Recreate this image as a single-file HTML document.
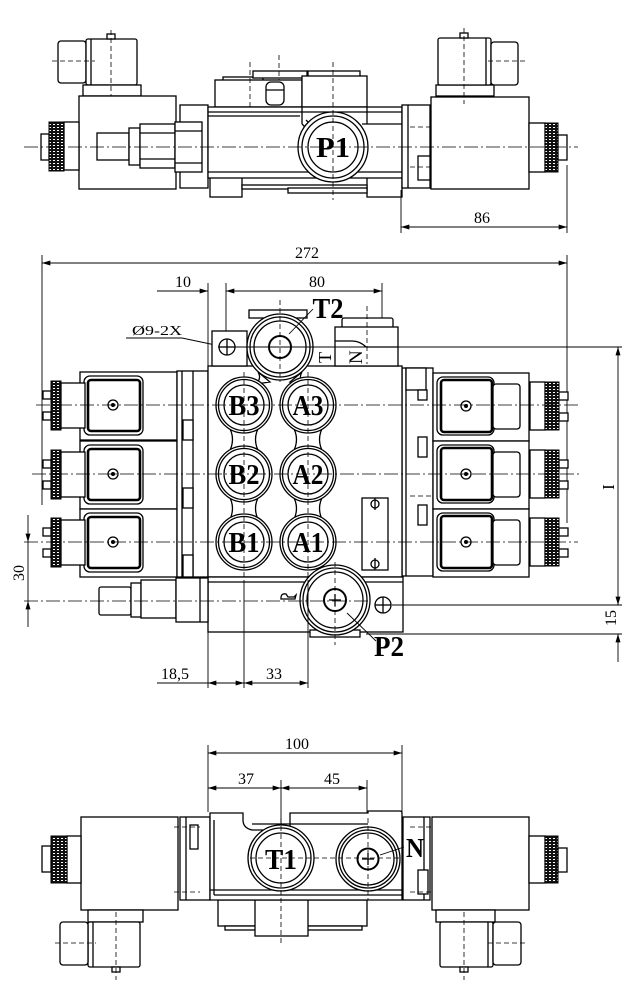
<!DOCTYPE html>
<html><head><meta charset="utf-8">
<style>
html,body{margin:0;padding:0;background:#fff}
svg{display:block}
text{font-family:"Liberation Serif",serif;fill:#000}
.s{fill:none;stroke:#000;stroke-width:1.3}
.w{fill:#fff;stroke:#000;stroke-width:1.3}
.c{fill:none;stroke:#000;stroke-width:0.8;stroke-dasharray:14 3 2 3}
.h{fill:none;stroke:#000;stroke-width:0.8;stroke-dasharray:5 3}
.d{fill:none;stroke:#000;stroke-width:0.9}
.k{fill:url(#kn);stroke:#000;stroke-width:1}
.f{fill:none;stroke:#000;stroke-width:2.6}
.L{font-weight:bold;font-size:29px;text-anchor:middle}
.D{font-size:16px;text-anchor:middle}
</style></head>
<body>
<svg width="640" height="1000" viewBox="0 0 640 1000" xmlns="http://www.w3.org/2000/svg">
<defs>
<pattern id="kn" width="4" height="3" patternUnits="userSpaceOnUse"><rect width="4" height="3" fill="#111"/><rect x="1" y="1" width="2" height="1" fill="#fff"/></pattern>
<marker id="ar" viewBox="0 0 10 6" refX="10" refY="3" markerWidth="10" markerHeight="5" markerUnits="userSpaceOnUse" orient="auto-start-reverse"><path d="M0,0L10,3L0,6z"/></marker>
<g id="sl">
 <rect class="w" x="80" y="-33" width="97" height="68"/>
 <rect class="s" x="84" y="-29" width="59" height="59" rx="6"/>
 <rect class="f" x="88" y="-25" width="52" height="51" rx="3"/>
 <rect class="w" x="61" y="-22" width="24" height="45"/>
 <rect class="k" x="51" y="-24" width="10" height="49"/>
 <rect class="w" x="43" y="-14" width="8" height="8"/>
 <rect class="w" x="43" y="7" width="8" height="8"/>
 <circle class="s" cx="113" cy="0" r="5"/><circle cx="113" cy="0" r="2"/>
</g>
<g id="sr">
 <rect class="w" x="433" y="-33" width="96" height="68"/>
 <rect class="s" x="437" y="-29" width="57" height="58" rx="6"/>
 <rect class="f" x="441" y="-26" width="51" height="52" rx="3"/>
 <rect class="w" x="493" y="-22" width="27" height="45" rx="3"/>
 <rect class="w" x="530" y="-24" width="15" height="48"/>
 <rect class="k" x="545" y="-24" width="14" height="48"/>
 <rect class="w" x="559" y="-14" width="9" height="8"/>
 <rect class="w" x="559" y="7" width="9" height="8"/>
 <circle class="s" cx="466" cy="0" r="5"/><circle cx="466" cy="0" r="2"/>
</g>
<g id="pt"><circle class="w" r="28"/><circle class="s" r="25.5"/><circle class="s" r="20"/></g>
<path id="nk" class="w" d="M-16,20 Q-7,34.5 -16,49 L16,49 Q7,34.5 16,20 Z"/>
</defs>

<!-- ================= TOP VIEW ================= -->
<rect class="w" x="58" y="41" width="28" height="42" rx="3"/>
<rect class="w" x="86" y="39" width="51" height="46" rx="2"/>
<line class="s" x1="91" y1="39" x2="91" y2="85"/>
<rect class="w" x="107" y="34" width="8" height="5"/>
<rect class="w" x="83" y="85" width="58" height="11"/>
<line class="h" x1="111" y1="30" x2="111" y2="100"/>
<line class="h" x1="52" y1="61" x2="95" y2="61"/>

<rect class="w" x="79" y="96" width="97" height="93"/>
<rect class="w" x="64" y="122" width="15" height="48"/>
<rect class="k" x="49" y="122" width="15" height="49"/>
<rect class="w" x="41" y="134" width="8" height="26"/>
<rect class="w" x="97" y="133" width="32" height="27"/>
<rect class="w" x="180" y="105" width="28" height="83"/>
<line class="h" x1="174" y1="127" x2="200" y2="127"/>
<line class="h" x1="174" y1="167" x2="200" y2="167"/>
<rect class="w" x="129" y="128" width="11" height="37"/>
<rect class="w" x="140" y="124" width="35" height="44"/>
<line class="s" x1="140" y1="133" x2="175" y2="133"/><line class="s" x1="140" y1="159" x2="175" y2="159"/>
<rect class="w" x="175" y="122" width="27" height="50"/>
<line class="s" x1="175" y1="131" x2="202" y2="131"/><line class="s" x1="175" y1="163" x2="202" y2="163"/>

<rect class="w" x="223" y="77" width="40" height="4"/>
<rect class="w" x="253" y="71" width="54" height="7"/>
<rect class="w" x="308" y="71" width="52" height="9"/>
<rect class="w" x="215" y="80" width="87" height="27"/>
<rect class="w" x="302" y="76" width="65" height="31"/>
<rect class="w" x="266" y="82" width="18" height="23" rx="5"/>
<line class="s" x1="266" y1="90" x2="284" y2="90"/>
<rect class="w" x="210" y="176" width="32" height="21"/>
<rect class="w" x="367" y="176" width="35" height="21"/>
<rect class="w" x="242" y="185" width="125" height="4"/>
<rect class="w" x="288" y="188" width="79" height="5"/>
<rect class="w" x="208" y="107" width="194" height="71"/>
<line class="s" x1="208" y1="112" x2="402" y2="112"/>
<line class="s" x1="208" y1="116" x2="300" y2="116"/>
<line class="s" x1="208" y1="172" x2="402" y2="172"/>
<line class="s" x1="302" y1="107" x2="302" y2="124"/>
<path class="s" d="M302,124 L314,136 M306,120 L318,132"/>
<line class="s" x1="367" y1="107" x2="367" y2="124"/>
<line class="s" x1="362" y1="124" x2="402" y2="124"/>
<circle class="w" cx="333" cy="147" r="35"/>
<circle class="s" cx="333" cy="147" r="31"/>
<circle class="s" cx="333" cy="147" r="25"/>
<text class="L" x="333" y="157" textLength="34" lengthAdjust="spacingAndGlyphs">P1</text>

<rect class="w" x="402" y="105" width="28" height="83"/>
<line class="s" x1="408" y1="105" x2="408" y2="188"/>
<rect class="w" x="418" y="156" width="12" height="24"/>
<line class="h" x1="410" y1="127" x2="436" y2="127"/>
<line class="h" x1="410" y1="167" x2="436" y2="167"/>
<rect class="w" x="431" y="97" width="98" height="92"/>
<rect class="w" x="436" y="85" width="58" height="11"/>
<rect class="w" x="438" y="38" width="53" height="47" rx="2"/>
<line class="s" x1="486" y1="38" x2="486" y2="85"/>
<rect class="w" x="491" y="42" width="27" height="43" rx="3"/>
<rect class="w" x="460" y="33" width="8" height="5"/>
<line class="h" x1="464" y1="28" x2="464" y2="104"/>
<line class="h" x1="488" y1="61" x2="526" y2="61"/>
<rect class="w" x="529" y="123" width="16" height="49"/>
<rect class="k" x="545" y="123" width="13" height="49"/>
<rect class="w" x="558" y="135" width="9" height="25"/>

<line class="c" x1="24" y1="147" x2="578" y2="147"/>
<line class="h" x1="333" y1="62" x2="333" y2="200"/>
<line class="h" x1="250" y1="62" x2="250" y2="107"/>
<line class="h" x1="279" y1="55" x2="279" y2="80"/>

<!-- dim 86 -->
<line class="d" x1="401" y1="190" x2="401" y2="233"/>
<line class="d" x1="567" y1="165" x2="567" y2="233"/>
<line class="d" x1="401" y1="227" x2="567" y2="227" marker-start="url(#ar)" marker-end="url(#ar)"/>
<text class="D" x="482" y="223">86</text>

<!-- ================= MIDDLE VIEW ================= -->
<line class="d" x1="42" y1="255" x2="42" y2="505"/>
<line class="d" x1="567" y1="255" x2="567" y2="523"/>
<line class="d" x1="42" y1="263" x2="567" y2="263" marker-start="url(#ar)" marker-end="url(#ar)"/>
<text class="D" x="307" y="258">272</text>
<line class="d" x1="208" y1="283" x2="208" y2="366"/>
<line class="d" x1="226" y1="283" x2="226" y2="340"/>
<line class="d" x1="382" y1="283" x2="382" y2="615"/>
<line class="d" x1="157" y1="291" x2="208" y2="291" marker-end="url(#ar)"/>
<line class="d" x1="226" y1="291" x2="382" y2="291" marker-start="url(#ar)" marker-end="url(#ar)"/>
<text class="D" x="183" y="287">10</text>
<text class="D" x="317" y="287">80</text>
<text x="157" y="335" style="font-size:14px;text-anchor:middle" textLength="50" lengthAdjust="spacingAndGlyphs">Ø9-2X</text>
<polyline class="d" points="126,338 182,338 220,346" marker-end="url(#ar)"/>

<use href="#sl" y="405"/>
<use href="#sl" y="474"/>
<use href="#sl" y="542"/>
<rect class="w" x="177" y="371" width="31" height="206"/>
<line class="s" x1="182" y1="371" x2="182" y2="577"/>
<line class="s" x1="193" y1="371" x2="193" y2="577"/>
<rect class="w" x="183" y="420" width="10" height="20"/>
<rect class="w" x="183" y="488" width="10" height="20"/>
<rect class="w" x="183" y="555" width="10" height="22"/>
<rect class="w" x="402" y="368" width="31" height="208"/>
<line class="s" x1="406" y1="368" x2="406" y2="576"/>
<rect class="w" x="406" y="368" width="20" height="22"/>
<rect class="w" x="418" y="390" width="9" height="10"/>
<rect class="w" x="418" y="437" width="9" height="20"/>
<rect class="w" x="418" y="505" width="9" height="20"/>
<line class="h" x1="410" y1="496" x2="436" y2="496"/>
<use href="#sr" y="406"/>
<use href="#sr" y="474"/>
<use href="#sr" y="542"/>

<rect class="w" x="208" y="366" width="194" height="211"/>
<rect class="w" x="208" y="577" width="195" height="55"/>
<line class="s" x1="208" y1="582" x2="403" y2="582"/>
<rect class="w" x="99" y="587" width="32" height="28" rx="2"/>
<rect class="w" x="131" y="583" width="10" height="34"/>
<rect class="w" x="141" y="580" width="35" height="38"/>
<rect class="w" x="176" y="578" width="32" height="44"/>
<line class="s" x1="200" y1="578" x2="200" y2="622"/>
<path class="s" d="M281,598 q0,-5 5,-4 l2,3 h6 l2,-2 l-1,4 h-14 z"/>

<rect class="w" x="212" y="331" width="35" height="35"/>
<circle class="w" cx="227" cy="347" r="8"/>
<line class="s" x1="219" y1="347" x2="235" y2="347"/><line class="s" x1="227" y1="339" x2="227" y2="355"/>
<rect class="w" x="342" y="318" width="51" height="10" rx="2"/>
<rect class="w" x="335" y="327" width="63" height="39"/>
<path class="s" d="M335,341 H352 Q360,341 366,347 H398"/>
<line class="h" x1="367" y1="306" x2="367" y2="364"/>
<text style="font-size:18px" transform="translate(331,363) rotate(-90)">T</text>
<text style="font-size:19px" transform="translate(362,364) rotate(-90)">N</text>

<!-- necks -->
<use href="#nk" x="244" y="405"/>
<use href="#nk" x="244" y="474"/>
<use href="#nk" x="308" y="405"/>
<use href="#nk" x="308" y="474"/>
<path class="w" d="M258,372 Q262,378 256,384 L270,382 Z"/>
<path class="w" d="M302,372 Q298,378 304,384 L290,382 Z"/>
<path class="w" d="M322,562 Q318,572 312,578 L328,582 Z"/>

<rect class="w" x="249" y="310" width="58" height="8"/>
<circle class="w" cx="280" cy="347" r="33"/>
<circle class="s" cx="280" cy="347" r="30"/>
<circle class="s" cx="280" cy="347" r="26"/>
<circle class="f" cx="280" cy="347" r="11" style="stroke-width:2"/>
<line class="h" x1="280" y1="300" x2="280" y2="382"/>
<line class="d" x1="289" y1="334" x2="313" y2="309"/>
<text class="L" x="328" y="318" textLength="31" lengthAdjust="spacingAndGlyphs">T2</text>

<use href="#pt" x="244" y="405"/>
<use href="#pt" x="308" y="405"/>
<use href="#pt" x="244" y="474"/>
<use href="#pt" x="308" y="474"/>
<use href="#pt" x="244" y="542"/>
<use href="#pt" x="308" y="542"/>
<text class="L" x="244" y="415" textLength="31" lengthAdjust="spacingAndGlyphs">B3</text>
<text class="L" x="308" y="415" textLength="31" lengthAdjust="spacingAndGlyphs">A3</text>
<text class="L" x="244" y="484" textLength="31" lengthAdjust="spacingAndGlyphs">B2</text>
<text class="L" x="308" y="484" textLength="31" lengthAdjust="spacingAndGlyphs">A2</text>
<text class="L" x="244" y="552" textLength="31" lengthAdjust="spacingAndGlyphs">B1</text>
<text class="L" x="308" y="552" textLength="31" lengthAdjust="spacingAndGlyphs">A1</text>

<rect class="w" x="362" y="498" width="26" height="72"/>
<circle class="s" cx="375" cy="504" r="4"/><circle class="s" cx="375" cy="564" r="4"/>
<line class="s" x1="375" y1="498" x2="375" y2="510"/><line class="s" x1="375" y1="558" x2="375" y2="570"/>

<rect class="w" x="310" y="630" width="50" height="7"/>
<circle class="w" cx="335" cy="600" r="35"/>
<circle class="s" cx="335" cy="600" r="32"/>
<circle class="s" cx="335" cy="600" r="28"/>
<circle class="f" cx="335" cy="600" r="11" style="stroke-width:2"/>
<line class="s" x1="329" y1="600" x2="341" y2="600"/><line class="s" x1="335" y1="594" x2="335" y2="606"/>
<line class="h" x1="335" y1="562" x2="335" y2="645"/>
<circle class="w" cx="383" cy="605" r="8"/>
<line class="s" x1="375" y1="605" x2="391" y2="605"/>
<line class="s" x1="383" y1="597" x2="383" y2="613"/>
<line class="d" x1="347" y1="613" x2="376" y2="641"/>
<text class="L" x="389" y="656" textLength="30" lengthAdjust="spacingAndGlyphs">P2</text>

<line class="c" x1="36" y1="405" x2="578" y2="405"/>
<line class="c" x1="32" y1="474" x2="580" y2="474"/>
<line class="c" x1="24" y1="542" x2="578" y2="542"/>
<line class="c" x1="24" y1="601" x2="370" y2="601"/>
<line class="d" x1="218" y1="347" x2="622" y2="347"/>
<line class="d" x1="392" y1="605" x2="622" y2="605"/>
<line class="d" x1="366" y1="634" x2="622" y2="634"/>
<line class="h" x1="244" y1="372" x2="244" y2="580"/>
<line class="h" x1="308" y1="372" x2="308" y2="580"/>

<line class="d" x1="618" y1="347" x2="618" y2="605" marker-start="url(#ar)" marker-end="url(#ar)"/>
<line class="d" x1="618" y1="662" x2="618" y2="634" marker-end="url(#ar)"/>
<text style="font-size:17px;text-anchor:middle" transform="translate(614,487) rotate(-90)">I</text>
<text class="D" transform="translate(616,618) rotate(-90)">15</text>

<line class="d" x1="28" y1="515" x2="28" y2="542" marker-end="url(#ar)"/>
<line class="d" x1="28" y1="627" x2="28" y2="601" marker-end="url(#ar)"/>
<line class="d" x1="28" y1="542" x2="28" y2="601"/>
<text class="D" transform="translate(24,573) rotate(-90)">30</text>

<line class="d" x1="208" y1="632" x2="208" y2="688"/>
<line class="d" x1="244" y1="580" x2="244" y2="688"/>
<line class="d" x1="308" y1="580" x2="308" y2="688"/>
<line class="d" x1="157" y1="683" x2="208" y2="683"/>
<line class="d" x1="208" y1="683" x2="244" y2="683" marker-start="url(#ar)" marker-end="url(#ar)"/>
<line class="d" x1="244" y1="683" x2="308" y2="683" marker-start="url(#ar)" marker-end="url(#ar)"/>
<text class="D" x="175" y="679">18,5</text>
<text class="D" x="274" y="679">33</text>

<!-- ================= BOTTOM VIEW ================= -->
<line class="d" x1="208" y1="745" x2="208" y2="812"/>
<line class="d" x1="402" y1="745" x2="402" y2="812"/>
<line class="d" x1="208" y1="753" x2="402" y2="753" marker-start="url(#ar)" marker-end="url(#ar)"/>
<text class="D" x="297" y="749">100</text>
<line class="d" x1="281" y1="780" x2="281" y2="830"/>
<line class="d" x1="367" y1="780" x2="367" y2="830"/>
<line class="d" x1="208" y1="788" x2="281" y2="788" marker-start="url(#ar)" marker-end="url(#ar)"/>
<line class="d" x1="281" y1="788" x2="367" y2="788" marker-start="url(#ar)" marker-end="url(#ar)"/>
<text class="D" x="246" y="784">37</text>
<text class="D" x="332" y="784">45</text>

<rect class="w" x="81" y="817" width="97" height="93"/>
<rect class="w" x="67" y="836" width="14" height="47"/>
<rect class="k" x="51" y="836" width="16" height="47"/>
<rect class="w" x="42" y="846" width="9" height="26"/>
<rect class="w" x="88" y="910" width="55" height="12"/>
<rect class="w" x="88" y="922" width="52" height="45" rx="2"/>
<line class="s" x1="93" y1="922" x2="93" y2="967"/>
<rect class="w" x="60" y="922" width="28" height="43" rx="3"/>
<rect class="w" x="112" y="967" width="8" height="5"/>
<line class="h" x1="116" y1="912" x2="116" y2="980"/>
<line class="h" x1="55" y1="943" x2="96" y2="943"/>

<rect class="w" x="180" y="817" width="30" height="83"/>
<line class="s" x1="186" y1="817" x2="186" y2="900"/>
<rect class="w" x="190" y="825" width="8" height="24"/>
<line class="h" x1="174" y1="827" x2="200" y2="827"/>
<line class="h" x1="174" y1="892" x2="200" y2="892"/>

<rect class="w" x="218" y="900" width="149" height="26"/>
<rect class="w" x="225" y="926" width="137" height="4"/>
<rect class="w" x="255" y="900" width="53" height="36"/>
<path class="w" d="M210,900 V813 H243 V820 Q243,828 252,830 H290 V813 H368 V811 H400 Q402,811 402,813 V900 Z"/>
<line class="s" x1="214" y1="820" x2="214" y2="895"/>
<line class="s" x1="214" y1="895" x2="402" y2="895"/>
<line class="s" x1="252" y1="824" x2="368" y2="824"/>
<line class="s" x1="210" y1="890" x2="402" y2="890"/>
<circle class="w" cx="281" cy="858" r="33"/>
<circle class="s" cx="281" cy="858" r="30"/>
<circle class="s" cx="281" cy="858" r="25"/>
<text class="L" x="281" y="869" textLength="32" lengthAdjust="spacingAndGlyphs">T1</text>
<circle class="w" cx="368" cy="859" r="32"/>
<circle class="s" cx="368" cy="859" r="29"/>
<circle class="s" cx="368" cy="859" r="26"/>
<circle class="f" cx="368" cy="859" r="10.5" style="stroke-width:2"/>
<line class="s" x1="362" y1="859" x2="374" y2="859"/><line class="s" x1="368" y1="853" x2="368" y2="865"/>
<line class="h" x1="281" y1="818" x2="281" y2="945"/>
<line class="h" x1="368" y1="818" x2="368" y2="900"/>
<line class="h" x1="250" y1="858" x2="400" y2="858"/>

<rect class="w" x="403" y="817" width="27" height="83"/>
<line class="s" x1="424" y1="817" x2="424" y2="900"/>
<rect class="w" x="418" y="870" width="10" height="24"/>
<line class="h" x1="410" y1="827" x2="436" y2="827"/>
<line class="h" x1="410" y1="892" x2="436" y2="892"/>

<rect class="w" x="432" y="817" width="97" height="93"/>
<rect class="w" x="529" y="836" width="16" height="47"/>
<rect class="k" x="545" y="836" width="13" height="47"/>
<rect class="w" x="558" y="848" width="9" height="24"/>
<rect class="w" x="436" y="910" width="59" height="12"/>
<rect class="w" x="440" y="922" width="53" height="45" rx="2"/>
<line class="s" x1="488" y1="922" x2="488" y2="967"/>
<rect class="w" x="493" y="922" width="28" height="43" rx="3"/>
<rect class="w" x="460" y="967" width="8" height="5"/>
<line class="h" x1="464" y1="912" x2="464" y2="980"/>
<line class="h" x1="488" y1="943" x2="527" y2="943"/>

<line class="d" x1="380" y1="855" x2="404" y2="847"/>
<text class="L" x="415" y="857" style="font-size:27px" textLength="18" lengthAdjust="spacingAndGlyphs">N</text>
</svg>
</body></html>
